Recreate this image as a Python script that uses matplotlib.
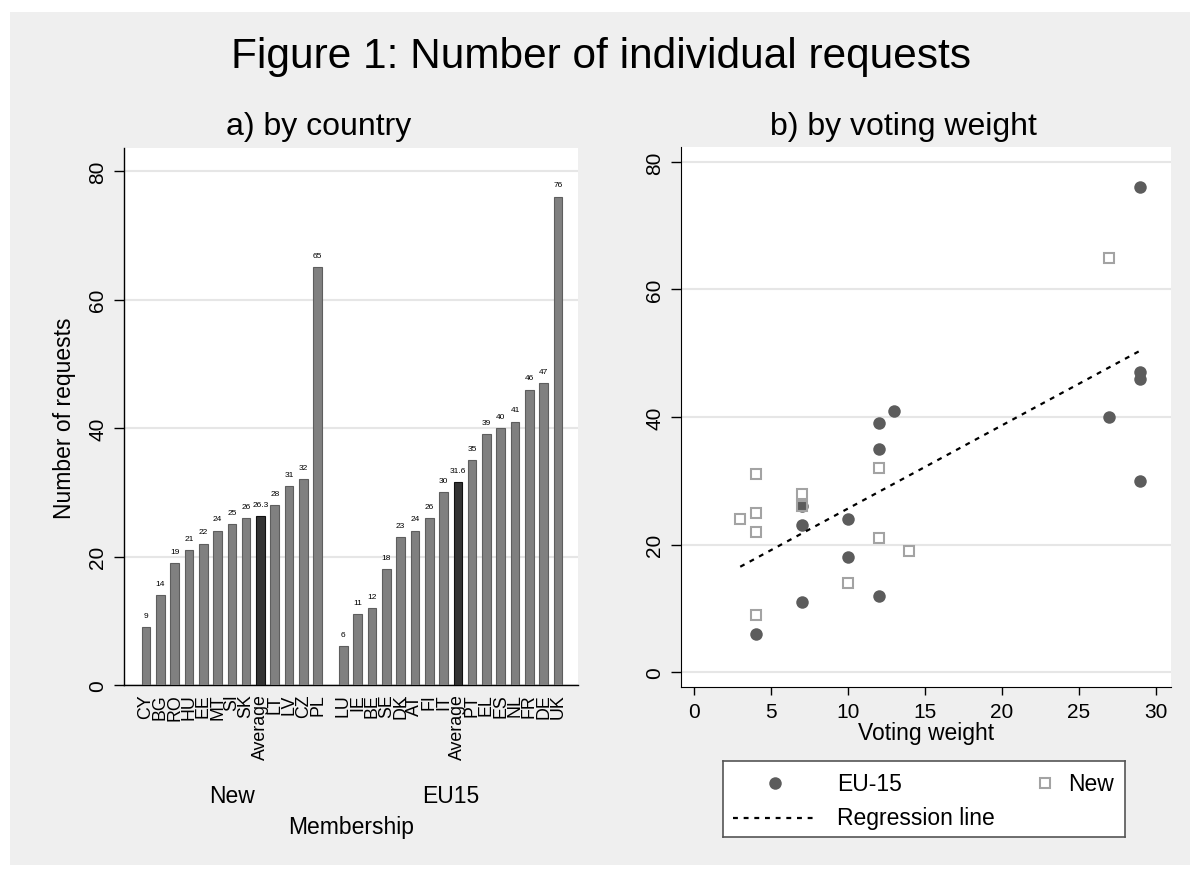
import numpy as np
import matplotlib
matplotlib.use("Agg")
import matplotlib.pyplot as plt
from matplotlib.patches import Rectangle

plt.rcParams['font.family'] = ['Liberation Sans', 'DejaVu Sans']

# --- data: panel a) requests by country ---
new_countries = ["CY", "BG", "RO", "HU", "EE", "MT", "SI", "SK", "Average", "LT", "LV", "CZ", "PL"]
new_requests = [9, 14, 19, 21, 22, 24, 25, 26, 26.3, 28, 31, 32, 65]
eu15_countries = ["LU", "IE", "BE", "SE", "DK", "AT", "FI", "IT", "Average",
                  "PT", "EL", "ES", "NL", "FR", "DE", "UK"]
eu15_requests = [6, 11, 12, 18, 23, 24, 26, 30, 31.6, 35, 39, 40, 41, 46, 47, 76]

# --- data: panel b) requests by voting weight ---
eu15_weight = [4, 7, 12, 10, 7, 10, 7, 29, 12, 12, 27, 13, 29, 29, 29]
eu15_req_pts = [6, 11, 12, 18, 23, 24, 26, 30, 35, 39, 40, 41, 46, 47, 76]
new_weight = [4, 10, 14, 12, 4, 3, 4, 7, 7, 4, 12, 27]
new_req_pts = [9, 14, 19, 21, 22, 24, 25, 26, 28, 31, 32, 65]

BG = '#efefef'
GRID = '#e6e6e6'
BAR = '#808080'
BAR_AVG = '#333333'

fig = plt.figure(figsize=(12.02, 8.79), dpi=100)
fig.patch.set_facecolor('white')
fig.add_artist(Rectangle((10 / 1202, 1 - 866 / 879), 1180 / 1202, 853 / 879,
                         transform=fig.transFigure, facecolor=BG, edgecolor='none', zorder=-10))

fig.text(0.5, 1 - 57 / 879, "Figure 1: Number of individual requests",
         ha='center', va='center', fontsize=30.5)
fig.text(319 / 1202, 1 - 127 / 879, "a) by country", ha='center', va='center', fontsize=23)
fig.text(903 / 1202, 1 - 127 / 879, "b) by voting weight", ha='center', va='center', fontsize=23)

# ---------------- panel a ----------------
ax1 = fig.add_axes([124 / 1202, 1 - 686 / 879, 454 / 1202, 537 / 879])
ax1.set_facecolor('white')
gap = 0.8
x_new = np.arange(len(new_countries))
x_eu = np.arange(len(eu15_countries)) + len(new_countries) + gap
xs = np.concatenate([x_new, x_eu])
vals = new_requests + eu15_requests
labels = new_countries + eu15_countries
cols = [BAR_AVG if l == "Average" else BAR for l in labels]
edges = ['#111111' if l == "Average" else '#5e5e5e' for l in labels]

ax1.bar(xs, vals, width=0.6, color=cols, edgecolor=edges, linewidth=0.8, zorder=3)
for x, v in zip(xs, vals):
    ax1.text(x, v + 1.3, f"{v:g}", ha='center', va='bottom', fontsize=6, zorder=4)

ax1.set_xlim(-1.54, 30.2)
ax1.set_ylim(0, 83.6)
ax1.set_yticks([0, 20, 40, 60, 80])
ax1.yaxis.grid(True, color=GRID, linewidth=1.5, zorder=0)
ax1.set_axisbelow(True)
ax1.set_xticks(xs)
ax1.set_xticklabels(labels, rotation=90, fontsize=12.8)
ax1.tick_params(axis='x', length=0, pad=6)
ax1.tick_params(axis='y', length=7, width=1, pad=5, labelsize=15, labelrotation=90)
for t in ax1.get_yticklabels():
    t.set_va('center')
for s in ['top', 'right']:
    ax1.spines[s].set_visible(False)
for s in ['left', 'bottom']:
    ax1.spines[s].set_linewidth(1)

ax1.text(x_new.mean(), -0.2067, "New", transform=ax1.get_xaxis_transform(),
         ha='center', va='center', fontsize=16.5)
ax1.text(x_eu.mean(), -0.2067, "EU15", transform=ax1.get_xaxis_transform(),
         ha='center', va='center', fontsize=16.5)
ax1.text(0.5, -0.2644, "Membership", transform=ax1.transAxes,
         ha='center', va='center', fontsize=16.5)
fig.text(65 / 1202, 1 - 418 / 879, "Number of requests", rotation=90,
         ha='center', va='center', fontsize=16.5)

# ---------------- panel b ----------------
ax2 = fig.add_axes([681 / 1202, 1 - 688 / 879, 490 / 1202, 540 / 879])
ax2.set_facecolor('white')
ax2.plot(eu15_weight, eu15_req_pts, 'o', color='#5c5c5c', markersize=9,
         markeredgewidth=0, zorder=3)
ax2.plot(new_weight, new_req_pts, 's', markerfacecolor='none', markeredgecolor='#a3a3a3',
         markersize=6.5, markeredgewidth=1.5, zorder=4)

all_w = np.array(eu15_weight + new_weight, dtype=float)
all_r = np.array(eu15_req_pts + new_req_pts, dtype=float)
slope, icpt = np.polyfit(all_w, all_r, 1)
xl = np.array([all_w.min(), all_w.max()])
ax2.plot(xl, icpt + slope * xl, color='black', linewidth=1.6,
         linestyle=(0, (2.2, 2.6)), zorder=5)

ax2.set_xlim(-0.85, 31.0)
ax2.set_ylim(-2.35, 82.35)
ax2.set_xticks([0, 5, 10, 15, 20, 25, 30])
ax2.set_yticks([0, 20, 40, 60, 80])
ax2.yaxis.grid(True, color=GRID, linewidth=1.5, zorder=0)
ax2.set_axisbelow(True)
ax2.tick_params(axis='x', length=6, width=1, pad=5, labelsize=15)
ax2.tick_params(axis='y', length=7, width=1, pad=5, labelsize=15, labelrotation=90)
for t in ax2.get_yticklabels():
    t.set_va('center')
for s in ['top', 'right']:
    ax2.spines[s].set_visible(False)
ax2.set_xlabel("Voting weight", fontsize=16.5, labelpad=0)

# legend box
lax = fig.add_axes([723 / 1202, 1 - 838 / 879, 402 / 1202, 76 / 879])
lax.set_xlim(0, 1)
lax.set_ylim(0, 1)
lax.set_xticks([])
lax.set_yticks([])
lax.set_facecolor('white')
for s in lax.spines.values():
    s.set_edgecolor('#555555')
    s.set_linewidth(1.2)
lax.plot([0.129], [0.71], 'o', color='#5c5c5c', markersize=9, markeredgewidth=0)
lax.text(0.284, 0.71, "EU-15", va='center', ha='left', fontsize=16.5)
lax.plot([0.801], [0.71], 's', markerfacecolor='none', markeredgecolor='#a3a3a3',
         markersize=6.5, markeredgewidth=1.5)
lax.text(0.858, 0.71, "New", va='center', ha='left', fontsize=16.5)
lax.plot([0.025, 0.236], [0.25, 0.25], color='black', linewidth=1.6, linestyle=(0, (2.2, 2.6)))
lax.text(0.284, 0.25, "Regression line", va='center', ha='left', fontsize=16.5)

fig.savefig("out.png", dpi=100, facecolor=fig.get_facecolor())
